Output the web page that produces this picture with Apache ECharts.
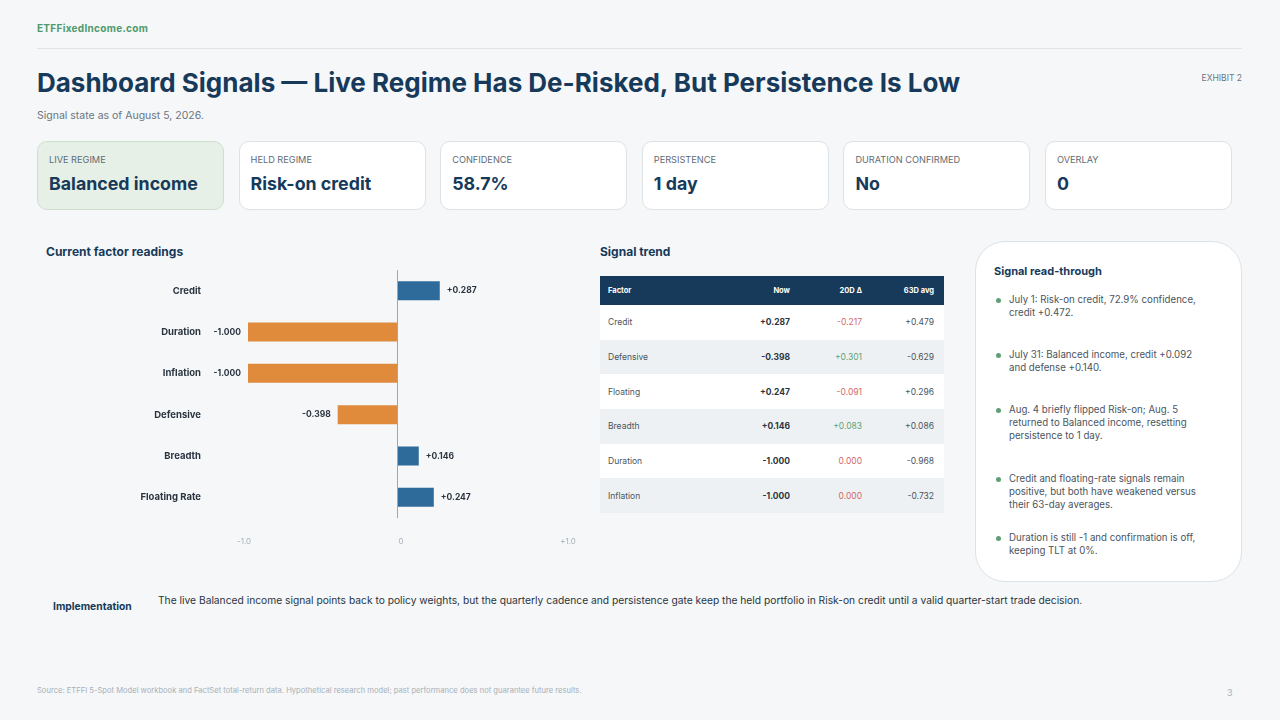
<!DOCTYPE html>
<html>
<head>
<meta charset="utf-8">
<script src="https://cdn.jsdelivr.net/npm/echarts@6/dist/echarts.min.js"></script>
<style>
  html, body { margin: 0; padding: 0; }
  body { width: 1280px; height: 720px; background: #f5f7f9; font-family: Inter, Roboto, sans-serif; position: relative; overflow: hidden; color: #2a3540; }
  .abs { position: absolute; white-space: nowrap; }
  .brand { left: 37px; top: 22px; font-size: 10px; font-weight: 700; color: #4f9a6c; letter-spacing: 0.3px; }
  .rule { left: 37px; top: 48px; width: 1205px; height: 1px; background: #dfe4e8; }
  .title { left: 37px; top: 67px; font-size: 26px; font-weight: 700; color: #173a5a; }
  .exhibit { right: 38px; top: 73px; font-size: 8.5px; color: #6b7580; }
  .subtitle { left: 37px; top: 109px; font-size: 10.5px; color: #6b7580; }
  .card { position: absolute; top: 141px; width: 187px; height: 69px; background: #fff; border: 1px solid #dde2e6; border-radius: 10px; box-sizing: border-box; }
  .card.live { background: #e6f0e6; border-color: #cfdfcf; }
  .card .lab { position: absolute; left: 11px; top: 12px; font-size: 9.2px; color: #5f6b76; }
  .card .val { position: absolute; left: 11px; top: 31px; font-size: 17.8px; font-weight: 700; color: #173a5a; }
  .h2 { font-size: 12px; font-weight: 700; color: #173a5a; }
  #chart { position: absolute; left: 0; top: 230px; width: 590px; height: 330px; }
  table { position: absolute; left: 600px; top: 276px; width: 344px; border-collapse: collapse; font-size: 8.5px; table-layout: fixed; }
  th { background: #173a5a; color: #fff; font-weight: 700; height: 29px; padding: 0 10px 0 8px; font-size: 7.5px; }
  td { height: 34.7px; padding: 0 10px 0 8px; color: #4a5560; }
  tbody tr:nth-child(even) td { background: #eef1f4; }
  tbody tr:nth-child(odd) td { background: #fff; }
  th.r, td.r { text-align: right; }
  th.l, td.l { text-align: left; }
  td.now { font-weight: 700; color: #2a3540; }
  td.neg { color: #d06a68; }
  td.pos { color: #5fa376; }
  td.zero { color: #d06a68; }
  .panel { position: absolute; left: 975px; top: 241px; width: 267px; height: 341px; background: #fff; border: 1px solid #dde2e6; border-radius: 30px; box-sizing: border-box; }
  .panel .ph { position: absolute; left: 18px; top: 22px; font-size: 11px; font-weight: 700; color: #173a5a; }
  .bullet { position: absolute; left: 33px; width: 198px; font-size: 9.7px; line-height: 12.8px; color: #4a5560; white-space: normal; }
  .bullet:before { content: ""; position: absolute; left: -13px; top: 4px; width: 5px; height: 5px; border-radius: 50%; background: #5f9f74; }
  .impl-h { left: 53px; top: 600px; font-size: 10.3px; font-weight: 700; color: #173a5a; }
  .impl { left: 158px; top: 594px; font-size: 10.25px; color: #2a3540; }
  .source { left: 37px; top: 686px; font-size: 7.6px; color: #a8b0b8; }
  .page { left: 1227px; top: 687px; font-size: 9px; color: #a8b0b8; }
</style>
</head>
<body>
<div class="abs brand">ETFFixedIncome.com</div>
<div class="abs rule"></div>
<div class="abs title">Dashboard Signals — Live Regime Has De-Risked, But Persistence Is Low</div>
<div class="abs exhibit">EXHIBIT 2</div>
<div class="abs subtitle">Signal state as of August 5, 2026.</div>
<div id="cards"></div>
<div class="abs h2" style="left:46px;top:244px;">Current factor readings</div>
<div id="chart"></div>
<div class="abs h2" style="left:600px;top:244px;">Signal trend</div>
<table id="trend"></table>
<div class="panel" id="panel"><div class="ph">Signal read-through</div></div>
<div class="abs impl-h">Implementation</div>
<div class="abs impl">The live Balanced income signal points back to policy weights, but the quarterly cadence and persistence gate keep the held portfolio in Risk-on credit until a valid quarter-start trade decision.</div>
<div class="abs source">Source: ETFFI 5-Spot Model workbook and FactSet total-return data. Hypothetical research model; past performance does not guarantee future results.</div>
<div class="abs page">3</div>
<script>
// kpi cards
var kpiLabels = ['LIVE REGIME', 'HELD REGIME', 'CONFIDENCE', 'PERSISTENCE', 'DURATION CONFIRMED', 'OVERLAY'];
var kpiValues = ['Balanced income', 'Risk-on credit', '58.7%', '1 day', 'No', '0'];

// factor bars
var factorNames = ['Credit', 'Duration', 'Inflation', 'Defensive', 'Breadth', 'Floating Rate'];
var factorValues = [0.287, -1.000, -1.000, -0.398, 0.146, 0.247];
var axisTickLabels = { '-1': '-1.0', '0': '0', '1': '+1.0' };

// signal trend table
var trendHeaders = ['Factor', 'Now', '20D Δ', '63D avg'];
var trendFactors = ['Credit', 'Defensive', 'Floating', 'Breadth', 'Duration', 'Inflation'];
var trendNow = [0.287, -0.398, 0.247, 0.146, -1.000, -1.000];
var trend20d = [-0.217, 0.301, -0.091, 0.083, 0.000, 0.000];
var trend63d = [0.479, -0.629, 0.296, 0.086, -0.968, -0.732];

// read-through notes
var notes = [
	'July 1: Risk-on credit, 72.9% confidence, credit +0.472.',
	'July 31: Balanced income, credit +0.092 and defense +0.140.',
	'Aug. 4 briefly flipped Risk-on; Aug. 5 returned to Balanced income, resetting persistence to 1 day.',
	'Credit and floating-rate signals remain positive, but both have weakened versus their 63-day averages.',
	'Duration is still -1 and confirmation is off, keeping TLT at 0%.'
];
var noteTops = [52, 107, 162, 231, 290];

function fmt(v) {
	return (v > 0 ? '+' : '') + v.toFixed(3);
}

var cardsHtml = '';
kpiLabels.forEach(function(l, i) {
	var left = 37 + i * 201.6;
	cardsHtml += '<div class="card' + (i === 0 ? ' live' : '') + '" style="left:' + left + 'px"><div class="lab">' + l +
		'</div><div class="val">' + kpiValues[i] + '</div></div>';
});
document.getElementById('cards').innerHTML = cardsHtml;

var t = '<colgroup><col style="width:120px"><col style="width:80px"><col style="width:72px"><col style="width:72px"></colgroup><thead><tr>';
trendHeaders.forEach(function(h, i) {
	t += '<th class="' + (i === 0 ? 'l' : 'r') + '">' + h + '</th>';
});
t += '</tr></thead><tbody>';
trendFactors.forEach(function(f, i) {
	var d = trend20d[i];
	var cls = d > 0 ? 'pos' : (d < 0 ? 'neg' : 'zero');
	t += '<tr><td class="l">' + f + '</td><td class="r now">' + fmt(trendNow[i]) + '</td><td class="r ' + cls + '">' +
		fmt(d) + '</td><td class="r">' + fmt(trend63d[i]) + '</td></tr>';
});
t += '</tbody>';
document.getElementById('trend').innerHTML = t;

var panel = document.getElementById('panel');
notes.forEach(function(n, i) {
	var d = document.createElement('div');
	d.className = 'bullet';
	d.style.top = noteTops[i] + 'px';
	d.textContent = n;
	panel.appendChild(d);
});

var chart = echarts.init(document.getElementById('chart'));
var option = {
	animation : false,
	textStyle : { fontFamily : 'Inter' },
	grid : {
		left : 248,
		right : 44,
		top : 40,
		height : 248
	},
	xAxis : {
		type : 'value',
		min : -1,
		max : 1,
		interval : 1,
		splitLine : { show : false },
		axisLine : { show : false },
		axisTick : { show : false },
		axisLabel : {
			margin : 20,
			color : '#a8b0b8',
			fontSize : 8,
			formatter : function(v) {
				var s = axisTickLabels[String(v)];
				if (v === 0) return '{z|' + s + '}';
				if (v === 1) return '{p|' + s + '}';
				return '{n|' + s + '}';
			},
			rich : {
				n : { color : '#a8b0b8', fontSize : 8, padding : [0, 8, 0, 0] },
				z : { color : '#a8b0b8', fontSize : 8, padding : [0, 0, 0, 8] },
				p : { color : '#a8b0b8', fontSize : 8, padding : [0, 0, 0, 44] }
			}
		}
	},
	yAxis : {
		type : 'category',
		inverse : true,
		data : factorNames,
		axisLine : { show : false },
		axisTick : { show : false },
		axisLabel : {
			margin : 47,
			color : '#2a3540',
			fontSize : 9.5,
			fontWeight : 'bold'
		}
	},
	series : [ {
		type : 'bar',
		barWidth : 19,
		data : factorValues.map(function(v) {
			return {
				value : v,
				itemStyle : { color : v >= 0 ? '#2e6b9a' : '#e08a3c' },
				label : { position : v >= 0 ? 'right' : 'left' }
			};
		}),
		label : {
			show : true,
			distance : 7,
			color : '#2a3540',
			fontSize : 8.5,
			fontWeight : 'bold',
			formatter : function(p) { return fmt(p.value); }
		},
		markLine : {
			silent : true,
			symbol : [ 'none', 'none' ],
			label : { show : false },
			lineStyle : { color : '#9aa8b4', width : 1, type : 'solid' },
			data : [ { xAxis : 0 } ]
		}
	} ]
};
chart.setOption(option);
</script>
</body>
</html>
